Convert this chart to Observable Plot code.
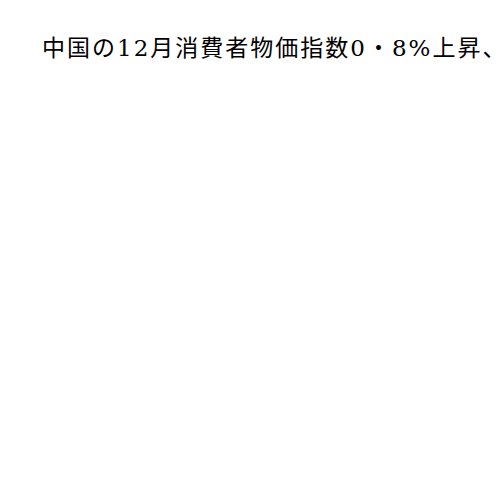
<!DOCTYPE html>
<html>
<head>
<meta charset="utf-8">
<script src="https://cdn.jsdelivr.net/npm/d3@7"></script>
<script src="https://cdn.jsdelivr.net/npm/@observablehq/plot@0.6"></script>
<style>
  html, body { margin: 0; padding: 0; background: #fff; width: 500px; height: 500px; overflow: hidden; }
  #title {
    position: absolute; left: 42px; top: 35px;
    font-family: "DejaVu Serif", "Noto Sans CJK JP", serif;
    font-size: 23px; line-height: 26px; color: #000;
    letter-spacing: 2px;
    white-space: nowrap; font-weight: normal;
  }
  #chart { position: absolute; left: 0; top: 80px; }
</style>
</head>
<body>
<div id="title"></div>
<div id="chart"></div>
<script>
const titleText = "中国の12月消費者物価指数0・8%上昇、";
const categories = [];
const values = [];

document.getElementById("title").textContent = titleText;

const data = categories.map((c, i) => ({category: c, value: values[i]}));
const chart = Plot.plot({
  width: 500,
  height: 400,
  axis: null,
  marks: data.length ? [Plot.barY(data, {x: "category", y: "value"})] : []
});
document.getElementById("chart").appendChild(chart);
</script>
</body>
</html>
